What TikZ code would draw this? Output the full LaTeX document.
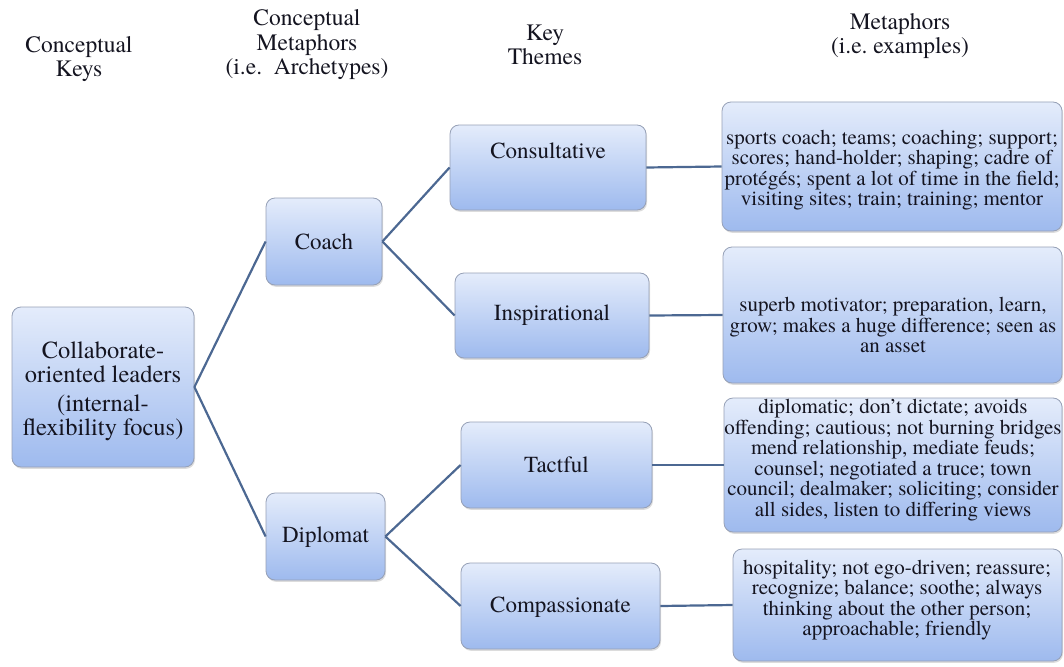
\documentclass[tikz,border=0pt]{standalone}
\usepackage{fontspec}
\setmainfont{texgyretermes}[Extension=.otf, UprightFont=*-regular,
  BoldFont=*-bold, ItalicFont=*-italic, BoldItalicFont=*-bolditalic]
\usetikzlibrary{shadows}
\definecolor{boxtop}{RGB}{228,236,251}
\definecolor{boxbot}{RGB}{158,186,238}
\definecolor{boxedge}{RGB}{150,160,182}
\definecolor{link}{RGB}{76,104,146}
\definecolor{ink}{RGB}{20,20,32}
\frenchspacing
\begin{document}
\begin{tikzpicture}[x=1pt,y=-1pt,
  box/.style={draw=boxedge, line width=0.8pt, rounded corners=9pt,
    top color=boxtop, bottom color=boxbot, inner sep=0pt,
    drop shadow={opacity=0.28, shadow xshift=1pt, shadow yshift=-1.8pt}},
  label/.style={inner sep=0pt, align=center, text=ink},
  head/.style={label, font=\fontsize{23.5}{24.5}\selectfont},
  theme/.style={label, font=\fontsize{23}{25}\selectfont},
  meta/.style={label, font=\fontsize{21}{20.5}\selectfont},
  link/.style={draw=link, line width=2.2pt}]
\useasboundingbox (0,0) rectangle (1064,666);

% column headings
\node[head] (h1) at (79,59)  {Conceptual\\Keys};
\node[head] (h2) at (307,45) {Conceptual\\Metaphors\\(i.e.\ \ Archetypes)};
\node[head] (h3) at (545,45) {Key\\Themes};
\node[head] (h4) at (900,36) {Metaphors\\(i.e. examples)};

% boxes
\node[box, minimum width=182, minimum height=160] (root) at (103,387) {};
\node[box, minimum width=116, minimum height=87]  (coach) at (324,241.5) {};
\node[box, minimum width=119, minimum height=87]  (dipl) at (325.5,536.5) {};
\node[box, minimum width=196, minimum height=85]  (cons) at (548,167.5) {};
\node[box, minimum width=194, minimum height=85]  (insp) at (552,315.5) {};
\node[box, minimum width=191, minimum height=86]  (tact) at (556.5,465) {};
\node[box, minimum width=199, minimum height=86]  (comp) at (560.5,606) {};
\node[box, minimum width=340, minimum height=129] (m1) at (892,166.5) {};
\node[box, minimum width=339, minimum height=136] (m2) at (892.5,315) {};
\node[box, minimum width=338, minimum height=134] (m3) at (893,465) {};
\node[box, minimum width=329, minimum height=112] (m4) at (897.5,605) {};

% connectors
\draw[link] (root.east) -- (coach.west);
\draw[link] (root.east) -- (dipl.west);
\draw[link] (coach.east) -- (cons.west);
\draw[link] (coach.east) -- (insp.west);
\draw[link] (dipl.east) -- (tact.west);
\draw[link] (dipl.east) -- (comp.west);
\draw[link] (cons.east) -- (m1.west);
\draw[link] (insp.east) -- (m2.west);
\draw[link] (tact.east) -- (m3.west);
\draw[link] (comp.east) -- (m4.west);

% texts
\node[label, font=\fontsize{24.5}{24}\selectfont] (rootT) at (103,391)
  {Collaborate-\\oriented leaders\\[5pt](internal-\\flexibility focus)};
\node[theme] (coachT) at (324,242) {Coach};
\node[theme] (diplT) at (325.5,537) {Diplomat};
\node[theme] (consT) at (548,151) {Consultative};
\node[theme] (inspT) at (552,315) {Inspirational};
\node[theme] (tactT) at (556.5,465) {Tactful};
\node[theme] (compT) at (560.5,607) {Compassionate};

\node[meta] (m1T) at (892,170) {sports coach; teams; coaching; support;\\
  scores; hand-holder; shaping; cadre of\\
  protégés; spent a lot of time in the field;\\
  visiting sites; train; training; mentor};
\node[meta] (m2T) at (893,325) {superb motivator; preparation, learn,\\
  grow; makes a huge difference; seen as\\
  an asset};
\node[meta] (m3T) at (893,460) {diplomatic; don’t dictate; avoids\\
  offending; cautious; not burning bridges\\
  mend relationship, mediate feuds;\\
  counsel; negotiated a truce; town\\
  council; dealmaker; soliciting; consider\\
  all sides, listen to differing views};
\node[meta] (m4T) at (897,600) {hospitality; not ego-driven; reassure;\\
  recognize; balance; soothe; always\\
  thinking about the other person;\\
  approachable; friendly};
\end{tikzpicture}
\end{document}
